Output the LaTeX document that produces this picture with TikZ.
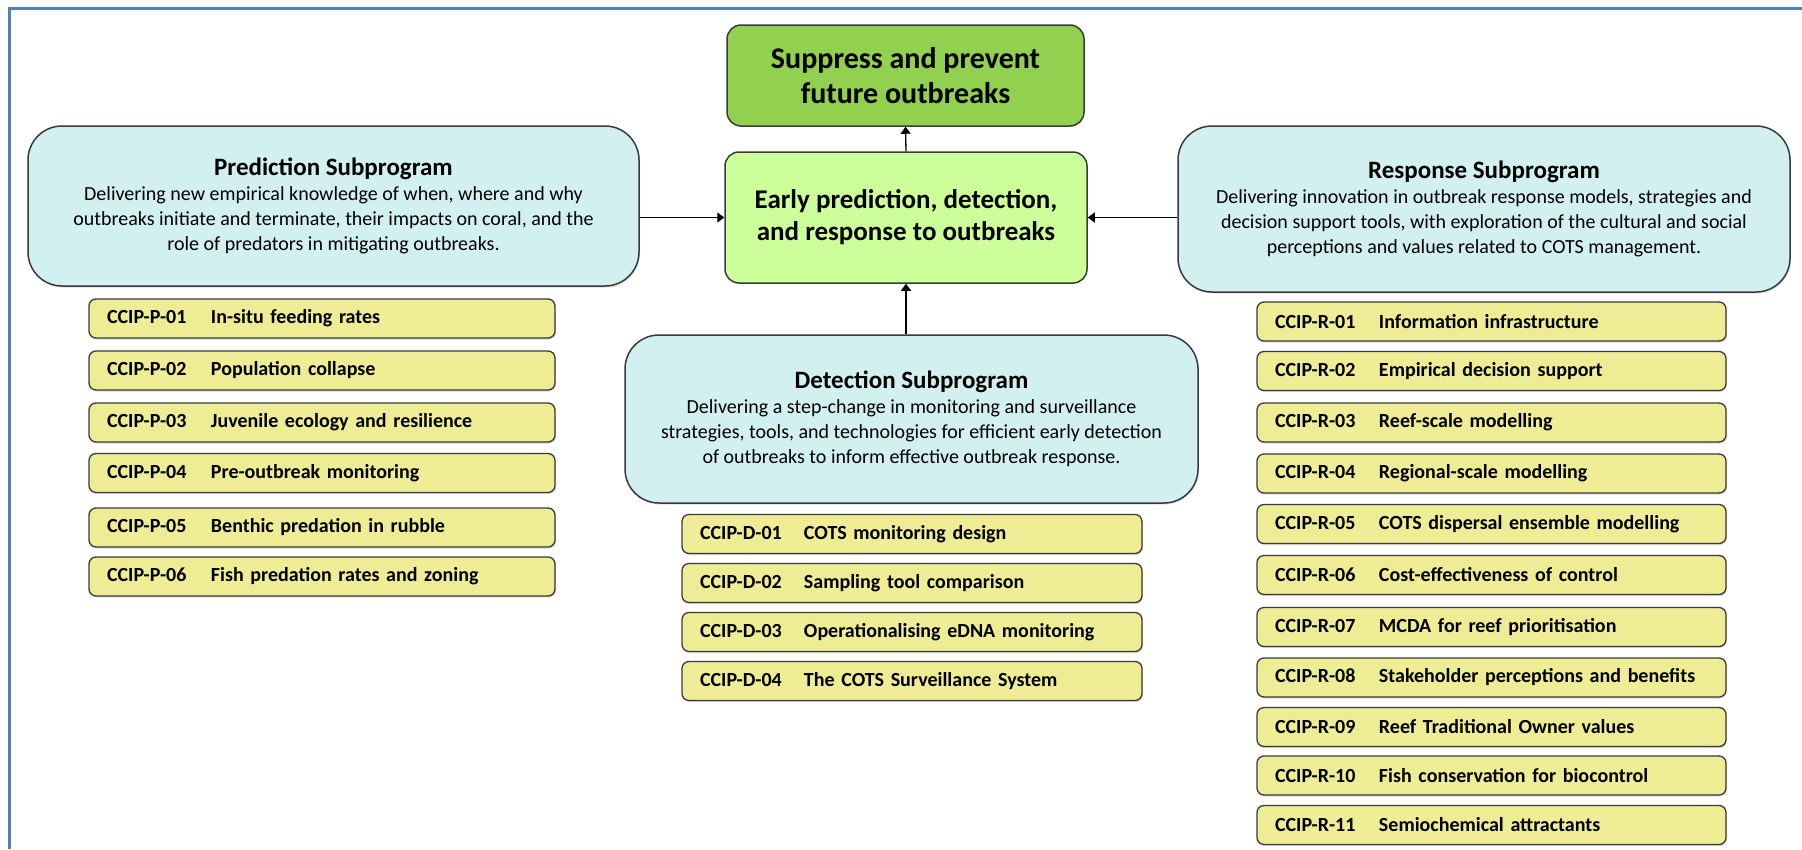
\documentclass[tikz,border=0pt]{standalone}
\usepackage{fontspec}
\setmainfont{Carlito}
\usetikzlibrary{arrows.meta,shadows}
\definecolor{goalgreen}{HTML}{92D050}
\definecolor{lightgreen}{HTML}{CCFF99}
\definecolor{subcyan}{HTML}{D2F0F0}
\definecolor{itemyellow}{HTML}{EEEC94}
\definecolor{bordergray}{HTML}{3A3A3A}
\definecolor{framecol}{HTML}{4F81BD}
\tikzset{
  boxbase/.style={draw=bordergray, line width=1.5pt, inner sep=0pt, align=center},
  goalbox/.style={boxbase, fill=goalgreen, rounded corners=14pt,
    font=\bfseries\fontsize{30}{35}\selectfont},
  centralbox/.style={boxbase, fill=lightgreen, rounded corners=14pt,
    font=\bfseries\fontsize{27}{32}\selectfont},
  subbox/.style={boxbase, fill=subcyan, rounded corners=34pt,
    font=\fontsize{20}{25}\selectfont,
    drop shadow={shadow xshift=1pt, shadow yshift=-1.5pt, opacity=0.25}},
  itembox/.style={draw=bordergray, line width=1.3pt, fill=itemyellow, rounded corners=7pt,
    minimum height=39pt, inner xsep=18pt, inner ysep=0pt, align=left,
    font=\bfseries\fontsize{20}{24}\selectfont,
    drop shadow={shadow xshift=1pt, shadow yshift=-1.5pt, opacity=0.3}},
  link/.style={draw=black, line width=1.3pt, -{Triangle[length=7pt,width=10pt]}},
}
\newcommand{\itm}[2]{\makebox[104pt][l]{#1}#2}
\newcommand{\subttl}[1]{{\bfseries\fontsize{25}{27}\selectfont #1}}
\begin{document}
\begin{tikzpicture}[x=1pt,y=-1pt]
\useasboundingbox (0,0) rectangle (1802,849);
\fill[white] (0,0) rectangle (1802,849);
\draw[framecol, line width=3pt] (9.5,849) -- (9.5,8.5) -- (1802,8.5);

\node[goalbox, minimum width=357pt, minimum height=101pt] (goal) at (905.5,75.5)
  {Suppress and prevent\\future outbreaks};
\node[centralbox, minimum width=362pt, minimum height=131pt] (early) at (906,217.5)
  {Early prediction, detection,\\and response to outbreaks};

\node[subbox, minimum width=611pt, minimum height=160pt] (pred) at (333.5,206)
  {\subttl{Prediction Subprogram}\\
   Delivering new empirical knowledge of when, where and why\\
   outbreaks initiate and terminate, their impacts on coral, and the\\
   role of predators in mitigating outbreaks.};
\node[subbox, minimum width=612pt, minimum height=166pt] (resp) at (1484,209)
  {\subttl{Response Subprogram}\\
   Delivering innovation in outbreak response models, strategies and\\
   decision support tools, with exploration of the cultural and social\\
   perceptions and values related to COTS management.};
\node[subbox, minimum width=573pt, minimum height=168pt] (det) at (911.5,419)
  {\subttl{Detection Subprogram}\\
   Delivering a step-change in monitoring and surveillance\\
   strategies, tools, and technologies for efficient early detection\\
   of outbreaks to inform effective outbreak response.};

\draw[link] (early.north) -- (goal.south);
\draw[link] (pred.east |- early.west) -- (early.west);
\draw[link] (resp.west |- early.east) -- (early.east);
\draw[link] (det.north -| early.south) -- (early.south);

% Prediction items
\begin{scope}[every node/.style={itembox, text width=430pt}]
\node (p1) at (322,318.5) {\itm{CCIP-P-01}{In-situ feeding rates}};
\node (p2) at (322,370.5) {\itm{CCIP-P-02}{Population collapse}};
\node (p3) at (322,422.5) {\itm{CCIP-P-03}{Juvenile ecology and resilience}};
\node (p4) at (322,473) {\itm{CCIP-P-04}{Pre-outbreak monitoring}};
\node (p5) at (322,527.5) {\itm{CCIP-P-05}{Benthic predation in rubble}};
\node (p6) at (322,576.5) {\itm{CCIP-P-06}{Fish predation rates and zoning}};
\end{scope}

% Detection items
\begin{scope}[every node/.style={itembox, text width=424pt}]
\node (d1) at (912,534) {\itm{CCIP-D-01}{COTS monitoring design}};
\node (d2) at (912,583) {\itm{CCIP-D-02}{Sampling tool comparison}};
\node (d3) at (912,632) {\itm{CCIP-D-03}{Operationalising eDNA monitoring}};
\node (d4) at (912,681) {\itm{CCIP-D-04}{The COTS Surveillance System}};
\end{scope}

% Response items
\begin{scope}[every node/.style={itembox, text width=433pt}]
\node (r1) at (1491.5,321.5) {\itm{CCIP-R-01}{Information infrastructure}};
\node (r2) at (1491.5,371) {\itm{CCIP-R-02}{Empirical decision support}};
\node (r3) at (1491.5,422.5) {\itm{CCIP-R-03}{Reef-scale modelling}};
\node (r4) at (1491.5,473.5) {\itm{CCIP-R-04}{Regional-scale modelling}};
\node (r5) at (1491.5,524) {\itm{CCIP-R-05}{COTS dispersal ensemble modelling}};
\node (r6) at (1491.5,575) {\itm{CCIP-R-06}{Cost-effectiveness of control}};
\node (r7) at (1491.5,627) {\itm{CCIP-R-07}{MCDA for reef prioritisation}};
\node (r8) at (1491.5,677.5) {\itm{CCIP-R-08}{Stakeholder perceptions and benefits}};
\node (r9) at (1491.5,727) {\itm{CCIP-R-09}{Reef Traditional Owner values}};
\node (r10) at (1491.5,775.5) {\itm{CCIP-R-10}{Fish conservation for biocontrol}};
\node (r11) at (1491.5,825) {\itm{CCIP-R-11}{Semiochemical attractants}};
\end{scope}
\end{tikzpicture}
\end{document}
